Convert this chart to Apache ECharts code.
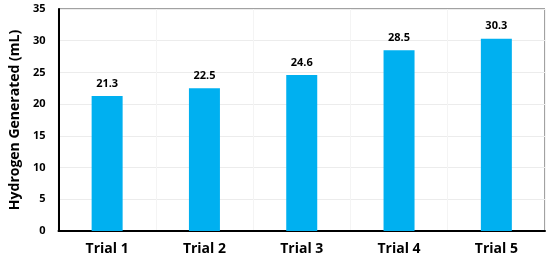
<!DOCTYPE html>
<html>
<head>
<meta charset="utf-8">
<script src="https://cdn.jsdelivr.net/npm/echarts@6/dist/echarts.min.js"></script>
<style>
  html, body { margin: 0; padding: 0; background: #fff; }
  #main { width: 550px; height: 261px; }
</style>
</head>
<body>
<div id="main"></div>
<script>
var categories = ['Trial 1', 'Trial 2', 'Trial 3', 'Trial 4', 'Trial 5'];
var hydrogen = [21.3, 22.5, 24.6, 28.5, 30.3];
var yTicks = { min: 0, max: 35, interval: 5 };

var font = '"Open Sans", "Liberation Sans", sans-serif';

var option = {
    animation: false,
    grid: {
        left: 49,
        right: 5,
        top: 9,
        bottom: 30,
        show: true,
        borderColor: '#444',
        borderWidth: 1
    },
    xAxis: {
        type: 'category',
        data: categories,
        axisLine: { lineStyle: { color: '#000', width: 2 } },
        axisTick: { show: false },
        splitLine: { show: true, lineStyle: { color: '#f4f4f4' } },
        axisLabel: {
            color: '#000',
            fontFamily: font,
            fontWeight: 'bold',
            fontSize: 14,
            margin: 11
        }
    },
    yAxis: {
        type: 'value',
        min: yTicks.min,
        max: yTicks.max,
        interval: yTicks.interval,
        name: 'Hydrogen Generated (mL)',
        nameLocation: 'middle',
        nameGap: 29,
        nameTextStyle: {
            color: '#000',
            fontFamily: font,
            fontWeight: 'bold',
            fontSize: 14
        },
        axisLine: { show: true, lineStyle: { color: '#000', width: 2 } },
        axisTick: { show: false },
        splitLine: { lineStyle: { color: '#ececec' } },
        axisLabel: {
            color: '#000',
            fontFamily: font,
            fontWeight: 'bold',
            fontSize: 11,
            margin: 13
        }
    },
    series: [{
        type: 'bar',
        data: hydrogen,
        barWidth: 31,
        itemStyle: { color: '#00B0F0' },
        label: {
            show: true,
            position: 'top',
            distance: 7,
            color: '#000',
            fontFamily: font,
            fontWeight: 'bold',
            fontSize: 11
        }
    }]
};

echarts.init(document.getElementById('main')).setOption(option);
</script>
</body>
</html>
